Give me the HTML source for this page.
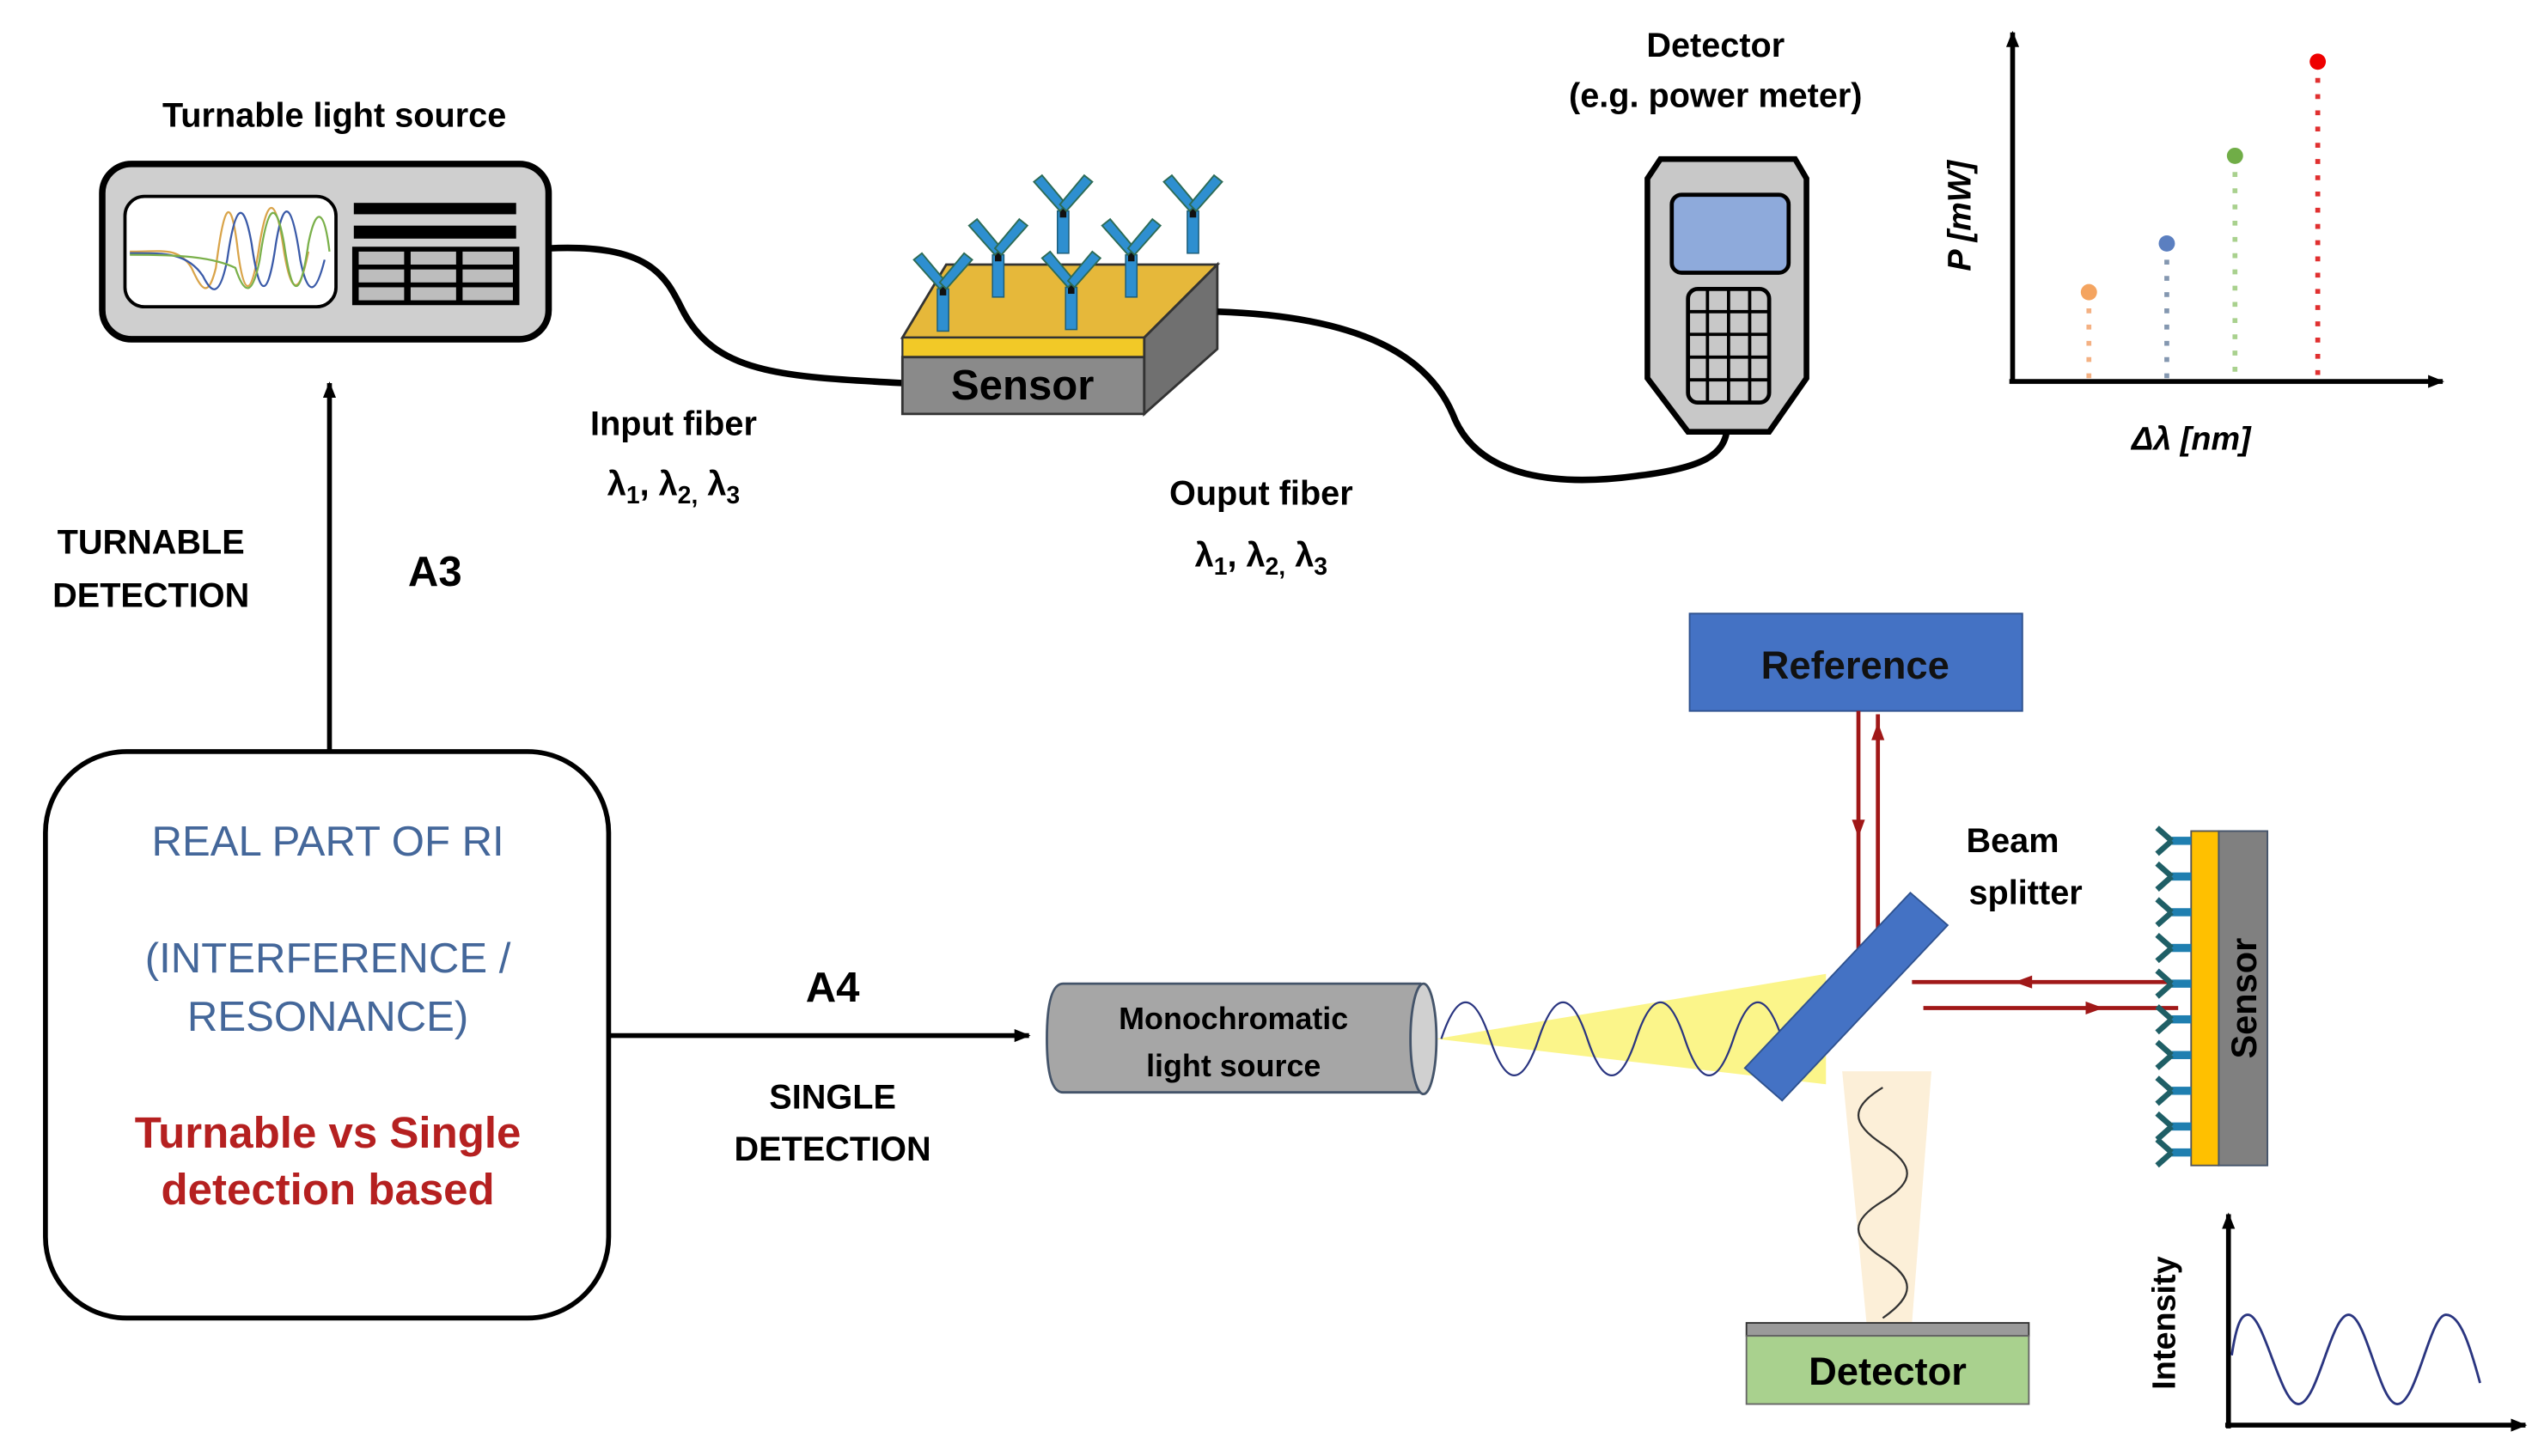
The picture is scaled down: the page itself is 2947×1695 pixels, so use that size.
<!DOCTYPE html>
<html><head><meta charset="utf-8"><style>
html,body{margin:0;padding:0;background:#fff;}
svg{display:block;}
text{font-family:"Liberation Sans",Arial,sans-serif;}
</style></head><body>
<svg width="2947" height="1695" viewBox="0 0 1560 897" preserveAspectRatio="none" xmlns="http://www.w3.org/2000/svg">
<defs>
<marker id="ab" markerWidth="10" markerHeight="10" refX="9" refY="5" orient="auto" markerUnits="userSpaceOnUse"><path d="M0,1 L10,5 L0,9 z" fill="#000"/></marker>
<g id="ab1">
<rect x="-3.5" y="0" width="7" height="26" fill="#2e8fd0" stroke="#1d5e7a" stroke-width="0.8"/>
<rect x="-2" y="-2" width="4" height="6" fill="#111"/>
<path d="M-2,0 L-18,-18 L-13,-22 L2,-4 z" fill="#2e8fd0" stroke="#2d6b55" stroke-width="1"/>
<path d="M2,0 L18,-18 L13,-22 L-2,-4 z" fill="#2e8fd0" stroke="#2d6b55" stroke-width="1"/>
</g>
<g id="ab2">
<rect x="0" y="-2.5" width="12" height="5" fill="#1f7fb0"/>
<path d="M0,0 L-9,-8 M0,0 L-9,8" stroke="#1f5f66" stroke-width="3.5" fill="none"/>
</g>
</defs>
<rect width="1560" height="897" fill="#fff"/>

<text x="206" y="78" font-size="21" font-weight="bold" text-anchor="middle">Turnable light source</text>
<rect x="63" y="101" width="275" height="108" rx="18" fill="#cfcfcf" stroke="#000" stroke-width="4"/>
<rect x="77" y="121" width="130" height="68" rx="12" fill="#fff" stroke="#000" stroke-width="2"/>
<path d="M80,155 C100,155 110,152 118,165 C124,178 128,185 133,165 C138,125 142,120 146,150 C150,185 155,185 160,150 C165,120 170,120 175,155 C180,185 185,180 190,155" stroke="#d9a44a" fill="none" stroke-width="1.2"/>
<path d="M80,156 C100,156 115,155 125,170 C130,180 135,185 140,160 C145,125 150,122 155,150 C160,185 165,185 170,150 C175,120 180,125 185,160 C190,185 195,180 200,160" stroke="#3a5aa8" fill="none" stroke-width="1.2"/>
<path d="M80,157 C110,157 130,158 145,165 C150,180 155,185 160,160 C165,125 170,122 175,150 C180,185 185,185 190,150 C195,125 200,130 203,155" stroke="#7ab04a" fill="none" stroke-width="1.2"/>
<rect x="218" y="125" width="100" height="7" fill="#000"/>
<rect x="218" y="139" width="100" height="8" fill="#000"/>
<rect x="217" y="152" width="103" height="36" fill="#000"/>
<g fill="#bdbdbd">
<rect x="221" y="155" width="28" height="8"/><rect x="253" y="155" width="28" height="8"/><rect x="285" y="155" width="31" height="8"/>
<rect x="221" y="166" width="28" height="8"/><rect x="253" y="166" width="28" height="8"/><rect x="285" y="166" width="31" height="8"/>
<rect x="221" y="177" width="28" height="8"/><rect x="253" y="177" width="28" height="8"/><rect x="285" y="177" width="31" height="8"/>
</g>

<path d="M338,153 C400,150 410,170 420,190 C440,230 480,232 556,236" stroke="#000" stroke-width="4" fill="none"/>

<polygon points="556,208 583,163 750,163 705,208" fill="#e6b83a" stroke="#333" stroke-width="1.5"/>
<polygon points="556,208 705,208 705,220 556,220" fill="#f2c927" stroke="#333" stroke-width="1.2"/>
<polygon points="556,220 705,220 705,255 556,255" fill="#8a8a8a" stroke="#333" stroke-width="1.5"/>
<polygon points="705,208 750,163 750,215 705,255" fill="#707070" stroke="#333" stroke-width="1.5"/>
<text x="630" y="246" font-size="26" font-weight="bold" text-anchor="middle">Sensor</text>
<use href="#ab1" x="581" y="178"/>
<use href="#ab1" x="615" y="157"/>
<use href="#ab1" x="655" y="130"/>
<use href="#ab1" x="697" y="157"/>
<use href="#ab1" x="735" y="130"/>
<use href="#ab1" x="660" y="177"/>

<path d="M750,192 C840,195 880,220 895,255 C910,295 960,300 1010,293 C1050,288 1062,280 1064,265" stroke="#000" stroke-width="4" fill="none"/>

<text x="415" y="268" font-size="21" font-weight="bold" text-anchor="middle">Input fiber</text>
<text x="415" y="305" font-size="21" font-weight="bold" text-anchor="middle">λ<tspan font-size="15" dy="5">1</tspan><tspan dy="-5">, λ</tspan><tspan font-size="15" dy="5">2,</tspan><tspan dy="-5"> λ</tspan><tspan font-size="15" dy="5">3</tspan></text>
<text x="777" y="311" font-size="21" font-weight="bold" text-anchor="middle">Ouput fiber</text>
<text x="777" y="349" font-size="21" font-weight="bold" text-anchor="middle">λ<tspan font-size="15" dy="5">1</tspan><tspan dy="-5">, λ</tspan><tspan font-size="15" dy="5">2,</tspan><tspan dy="-5"> λ</tspan><tspan font-size="15" dy="5">3</tspan></text>

<text x="1057" y="35" font-size="21" font-weight="bold" text-anchor="middle">Detector</text>
<text x="1057" y="66" font-size="21" font-weight="bold" text-anchor="middle">(e.g. power meter)</text>
<polygon points="1023,98 1106,98 1113,110 1113,233 1090,266 1040,266 1015,233 1015,110" fill="#c8c8c8" stroke="#000" stroke-width="3.5"/>
<rect x="1030" y="120" width="72" height="48" rx="6" fill="#8eaadb" stroke="#000" stroke-width="2.5"/>
<rect x="1040" y="178" width="50" height="70" rx="6" fill="#c8c8c8" stroke="#000" stroke-width="2.5"/>
<g stroke="#000" stroke-width="2">
<line x1="1052" y1="178" x2="1052" y2="248"/><line x1="1065" y1="178" x2="1065" y2="248"/><line x1="1078" y1="178" x2="1078" y2="248"/>
<line x1="1040" y1="192" x2="1090" y2="192"/><line x1="1040" y1="206" x2="1090" y2="206"/><line x1="1040" y1="220" x2="1090" y2="220"/><line x1="1040" y1="234" x2="1090" y2="234"/>
</g>

<line x1="1240" y1="236" x2="1240" y2="20" stroke="#000" stroke-width="3" marker-end="url(#ab)"/>
<line x1="1238" y1="235" x2="1505" y2="235" stroke="#000" stroke-width="3" marker-end="url(#ab)"/>
<g stroke-dasharray="3,7" stroke-width="3">
<line x1="1287" y1="180" x2="1287" y2="233" stroke="#f4b183"/>
<line x1="1335" y1="150" x2="1335" y2="233" stroke="#8497b0"/>
<line x1="1377" y1="96" x2="1377" y2="233" stroke="#a9d18e"/>
<line x1="1428" y1="38" x2="1428" y2="233" stroke="#e03030"/>
</g>
<circle cx="1287" cy="180" r="5" fill="#f4a460"/>
<circle cx="1335" cy="150" r="5" fill="#5b7fc0"/>
<circle cx="1377" cy="96" r="5" fill="#70ad47"/>
<circle cx="1428" cy="38" r="5" fill="#e00"/>
<text x="0" y="0" font-size="20" font-weight="bold" font-style="italic" text-anchor="middle" transform="translate(1214,133) rotate(-90)">P [mW]</text>
<text x="1350" y="277" font-size="20" font-weight="bold" font-style="italic" text-anchor="middle">Δλ [nm]</text>

<text x="93" y="341" font-size="21" font-weight="bold" text-anchor="middle">TURNABLE</text>
<text x="93" y="374" font-size="21" font-weight="bold" text-anchor="middle">DETECTION</text>
<text x="268" y="361" font-size="26" font-weight="bold" text-anchor="middle">A3</text>
<line x1="203" y1="462" x2="203" y2="236" stroke="#000" stroke-width="3" marker-end="url(#ab)"/>

<rect x="28" y="463" width="347" height="349" rx="50" fill="#fff" stroke="#000" stroke-width="3"/>
<text x="202" y="527" font-size="26" fill="#44679a" text-anchor="middle">REAL PART OF RI</text>
<text x="202" y="599" font-size="26" fill="#44679a" text-anchor="middle">(INTERFERENCE /</text>
<text x="202" y="635" font-size="26" fill="#44679a" text-anchor="middle">RESONANCE)</text>
<text x="202" y="707" font-size="27" font-weight="bold" fill="#b52020" text-anchor="middle">Turnable vs Single</text>
<text x="202" y="742" font-size="27" font-weight="bold" fill="#b52020" text-anchor="middle">detection based</text>

<line x1="375" y1="638" x2="634" y2="638" stroke="#000" stroke-width="3" marker-end="url(#ab)"/>
<text x="513" y="617" font-size="26" font-weight="bold" text-anchor="middle">A4</text>
<text x="513" y="683" font-size="21" font-weight="bold" text-anchor="middle">SINGLE</text>
<text x="513" y="715" font-size="21" font-weight="bold" text-anchor="middle">DETECTION</text>

<polygon points="885,640 1125,600 1125,668" fill="#fbf58a"/>
<polygon points="1135,660 1190,660 1178,815 1150,815" fill="#fcefd8"/>

<path d="M655,606 L875,606 L875,673 L655,673 Q645,673 645,640 Q645,606 655,606 z" fill="#a6a6a6" stroke="#44546a" stroke-width="1.5"/>
<ellipse cx="877" cy="640" rx="8" ry="34" fill="#d0d0d0" stroke="#44546a" stroke-width="1.5"/>
<text x="760" y="634" font-size="19" font-weight="bold" text-anchor="middle">Monochromatic</text>
<text x="760" y="663" font-size="19" font-weight="bold" text-anchor="middle">light source</text>

<path d="M888,640 C898,610 908,610 918,640 C928,670 938,670 948,640 C958,610 968,610 978,640 C988,670 998,670 1008,640 C1018,610 1028,610 1038,640 C1048,670 1058,670 1068,640 C1078,610 1088,610 1098,640" stroke="#2a3580" fill="none" stroke-width="1.2"/>
<path d="M1160,670 C1140,682 1140,692 1160,705 C1180,718 1180,728 1160,740 C1140,752 1140,762 1160,775 C1180,788 1180,798 1160,812" stroke="#333" fill="none" stroke-width="1.2"/>

<rect x="1041" y="378" width="205" height="60" fill="#4472c4" stroke="#2f528f" stroke-width="1"/>
<text x="1143" y="418" font-size="24" font-weight="bold" text-anchor="middle" fill="#111">Reference</text>

<g stroke="#a01818" stroke-width="2.5" fill="none">
<line x1="1145" y1="438" x2="1145" y2="600"/>
<line x1="1157" y1="440" x2="1157" y2="580"/>
<line x1="1178" y1="605" x2="1340" y2="605"/>
<line x1="1185" y1="621" x2="1342" y2="621"/>
</g>
<g fill="#a01818">
<polygon points="1141,505 1149,505 1145,516"/>
<polygon points="1153,456 1161,456 1157,445"/>
<polygon points="1252,601 1252,609 1241,605"/>
<polygon points="1285,617 1285,625 1296,621"/>
</g>

<polygon points="1177,550 1200,570 1098,678 1075,658" fill="#4472c4" stroke="#2f528f" stroke-width="1"/>
<text x="1240" y="525" font-size="21" font-weight="bold" text-anchor="middle">Beam</text>
<text x="1248" y="557" font-size="21" font-weight="bold" text-anchor="middle">splitter</text>

<rect x="1350" y="512" width="17" height="206" fill="#ffc000" stroke="#555" stroke-width="1"/>
<rect x="1367" y="512" width="30" height="206" fill="#808080" stroke="#44546a" stroke-width="1"/>
<text x="0" y="0" font-size="22" font-weight="bold" text-anchor="middle" transform="translate(1390,615) rotate(-90)">Sensor</text>
<use href="#ab2" x="1338" y="518"/><use href="#ab2" x="1338" y="540"/><use href="#ab2" x="1338" y="562"/>
<use href="#ab2" x="1338" y="584"/><use href="#ab2" x="1338" y="606"/><use href="#ab2" x="1338" y="628"/>
<use href="#ab2" x="1338" y="650"/><use href="#ab2" x="1338" y="672"/><use href="#ab2" x="1338" y="694"/>
<use href="#ab2" x="1338" y="710"/>

<rect x="1076" y="815" width="174" height="8" fill="#9a9a9a" stroke="#333" stroke-width="1"/>
<rect x="1076" y="823" width="174" height="42" fill="#a9d18e" stroke="#666" stroke-width="1"/>
<text x="1163" y="853" font-size="24" font-weight="bold" text-anchor="middle">Detector</text>

<line x1="1373" y1="880" x2="1373" y2="748" stroke="#000" stroke-width="3" marker-end="url(#ab)"/>
<line x1="1371" y1="878" x2="1556" y2="878" stroke="#000" stroke-width="3" marker-end="url(#ab)"/>
<path d="M1375,835 C1378,815 1381,810 1385,810 C1395,810 1405,865 1416,865 C1428,865 1436,810 1447,810 C1458,810 1466,865 1477,865 C1489,865 1497,810 1507,810 C1516,810 1522,830 1528,852" stroke="#2a3580" stroke-width="1.5" fill="none"/>
<text x="0" y="0" font-size="20" font-weight="bold" text-anchor="middle" transform="translate(1340,815) rotate(-90)">Intensity</text>
</svg>
</body></html>
